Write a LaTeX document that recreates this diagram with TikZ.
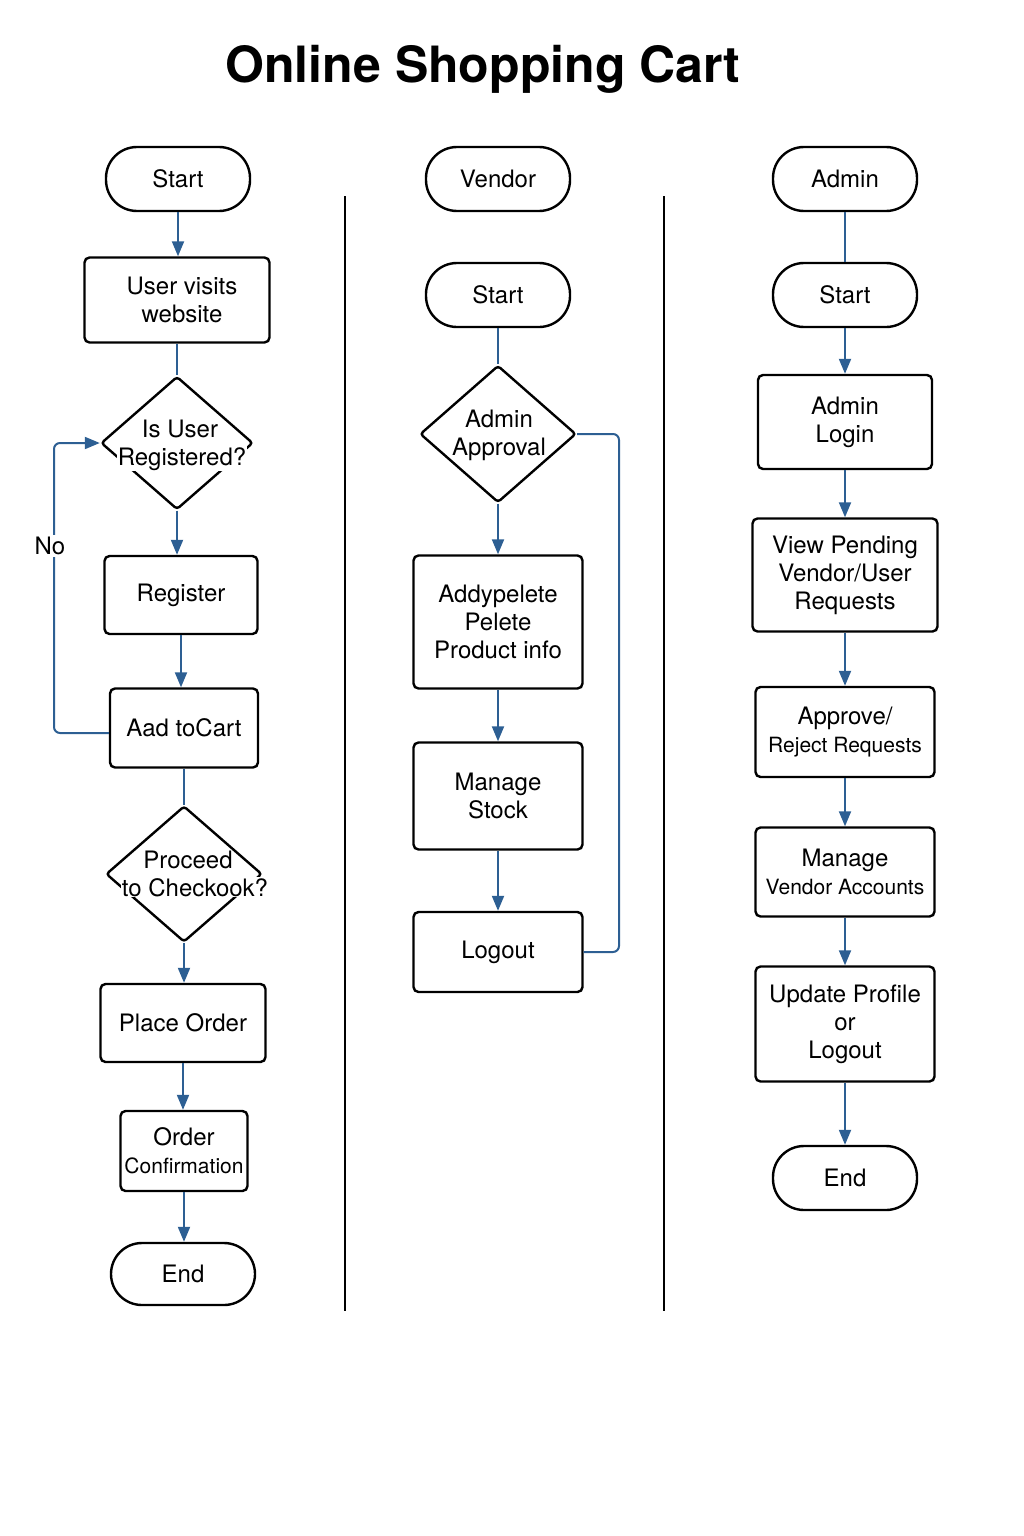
\documentclass[tikz,border=0pt]{standalone}
\usepackage{fontspec}
\setmainfont{TeX Gyre Heros}
\usetikzlibrary{shapes.geometric,arrows.meta}
\definecolor{flow}{HTML}{2D5F93}
\newcommand\txtbig{\fontsize{24}{28}\selectfont}
\newcommand\txtsmall{\fontsize{21}{25}\selectfont}
\begin{document}
\begin{tikzpicture}[x=1pt,y=-1pt,
  box/.style={draw, line width=2.4pt, rounded corners=5pt, inner sep=0pt,
    align=center, font=\txtbig},
  term/.style={draw, line width=2.4pt, rounded corners=31pt, inner sep=0pt,
    minimum width=144pt, minimum height=64pt, font=\txtbig},
  dia/.style={draw, diamond, line width=2.4pt, inner sep=0pt, rounded corners=3pt},
  txt/.style={align=center, font=\txtbig, inner sep=0pt},
  diatxt/.style={txt, fill=white, inner sep=1pt},
  flowline/.style={draw=flow, line width=2pt},
  flowarrow/.style={flowline, -{Triangle[width=12pt,length=15pt]}},
  sep/.style={draw=black, line width=2pt}]
\useasboundingbox (0,0) rectangle (1024,1536);

% title
\node[anchor=base, font=\fontsize{50}{60}\selectfont\bfseries] (title) at (483,83) {Online Shopping Cart};

% column separators
\coordinate (sepAtop) at (345,196);
\coordinate (sepAbot) at (345,1311);
\coordinate (sepBtop) at (664,196);
\coordinate (sepBbot) at (664,1311);
\draw[sep] (sepAtop) -- (sepAbot);
\draw[sep] (sepBtop) -- (sepBbot);

% ---------- customer flow ----------
\node[term] (s1) at (178,179) {Start};
\node[box, minimum width=185pt, minimum height=85pt] (visit) at (177,300) {\hspace*{10pt}User visits\\\hspace*{10pt}website};
\node[dia, minimum width=152pt, minimum height=133pt] (isreg) at (177,443) {};
\node[txt, anchor=base] (isregtop) at (180,437) {Is User};
\node[diatxt, anchor=base] (isregbot) at (182,465) {Registered?};
\node[box, minimum width=153pt, minimum height=78pt] (register) at (181,595) {Register};
\node[box, minimum width=148pt, minimum height=79pt] (cart) at (184,728) {Aad toCart};
\node[dia, minimum width=156pt, minimum height=136pt] (chk) at (184,874) {};
\node[txt, anchor=base] (chktop) at (188,868) {Proceed};
\node[diatxt, anchor=base] (chkbot) at (195,896) {to Checkook?};
\node[box, minimum width=165pt, minimum height=78pt] (order) at (183,1023) {Place Order};
\node[box, minimum width=127pt, minimum height=80pt] (conf) at (184,1151) {Order\\{\txtsmall Confirmation}};
\node[term, minimum height=62pt] (e1) at (183,1274) {End};

\draw[flowarrow] (s1.south) -- (s1.south |- visit.north);
\draw[flowline] (visit.south) -- (isreg.north);
\draw[flowarrow] (isreg.south) -- (isreg.south |- register.north);
\draw[flowarrow] (register.south) -- (register.south |- cart.north);
\draw[flowline] (cart.south) -- (chk.north);
\draw[flowarrow] (chk.south) -- (chk.south |- order.north);
\draw[flowarrow] (order.south) -- (order.south |- conf.north);
\draw[flowarrow] (conf.south) -- (conf.south |- e1.north);

\coordinate (loopx) at (54,0);
\draw[flowarrow, rounded corners=6pt] ([yshift=-5pt]cart.west) -| (loopx |- isreg.west) -- (isreg.west);
\node[fill=white, font=\txtbig, inner sep=2pt] (no) at (50,546) {No};

% ---------- vendor flow ----------
\node[term] (vendor) at (498,179) {Vendor};
\node[term] (s2) at (498,295) {Start};
\node[dia, minimum width=156pt, minimum height=137pt] (appr) at (498,434) {};
\node[txt] (apprtxt) at (499,435) {Admin\\Approval};
\node[box, minimum width=169pt, minimum height=133pt] (prod) at (498,622) {Addypelete\\Pelete\\Product info};
\node[box, minimum width=169pt, minimum height=107pt] (stock) at (498,796) {Manage\\Stock};
\node[box, minimum width=169pt, minimum height=80pt] (logout) at (498,952) {Logout};

\draw[flowline] (s2.south) -- (appr.north);
\draw[flowarrow] (appr.south) -- (appr.south |- prod.north);
\draw[flowarrow] (prod.south) -- (prod.south |- stock.north);
\draw[flowarrow] (stock.south) -- (stock.south |- logout.north);
\coordinate (vloopx) at (619,0);
\draw[flowline, rounded corners=6pt] (appr.east) -| (vloopx |- logout.east) -- (logout.east);

% ---------- admin flow ----------
\node[term] (admin) at (845,179) {Admin};
\node[term] (s3) at (845,295) {Start};
\node[box, minimum width=174pt, minimum height=94pt] (login) at (845,422) {Admin\\Login};
\node[box, minimum width=185pt, minimum height=113pt] (pend) at (845,575) {View Pending\\Vendor/User\\Requests};
\node[box, minimum width=179pt, minimum height=90pt] (decide) at (845,732) {Approve/\\{\txtsmall Reject Requests}};
\node[box, minimum width=179pt, minimum height=89pt] (acct) at (845,872) {Manage\\{\txtsmall Vendor Accounts}};
\node[box, minimum width=179pt, minimum height=115pt] (upd) at (845,1024) {Update Profile\\or\\Logout};
\node[term] (e3) at (845,1178) {End};

\draw[flowline] (admin.south) -- (s3.north);
\draw[flowarrow] (s3.south) -- (login.north);
\draw[flowarrow] (login.south) -- (pend.north);
\draw[flowarrow] (pend.south) -- (decide.north);
\draw[flowarrow] (decide.south) -- (acct.north);
\draw[flowarrow] (acct.south) -- (upd.north);
\draw[flowarrow] (upd.south) -- (e3.north);
\end{tikzpicture}
\end{document}
